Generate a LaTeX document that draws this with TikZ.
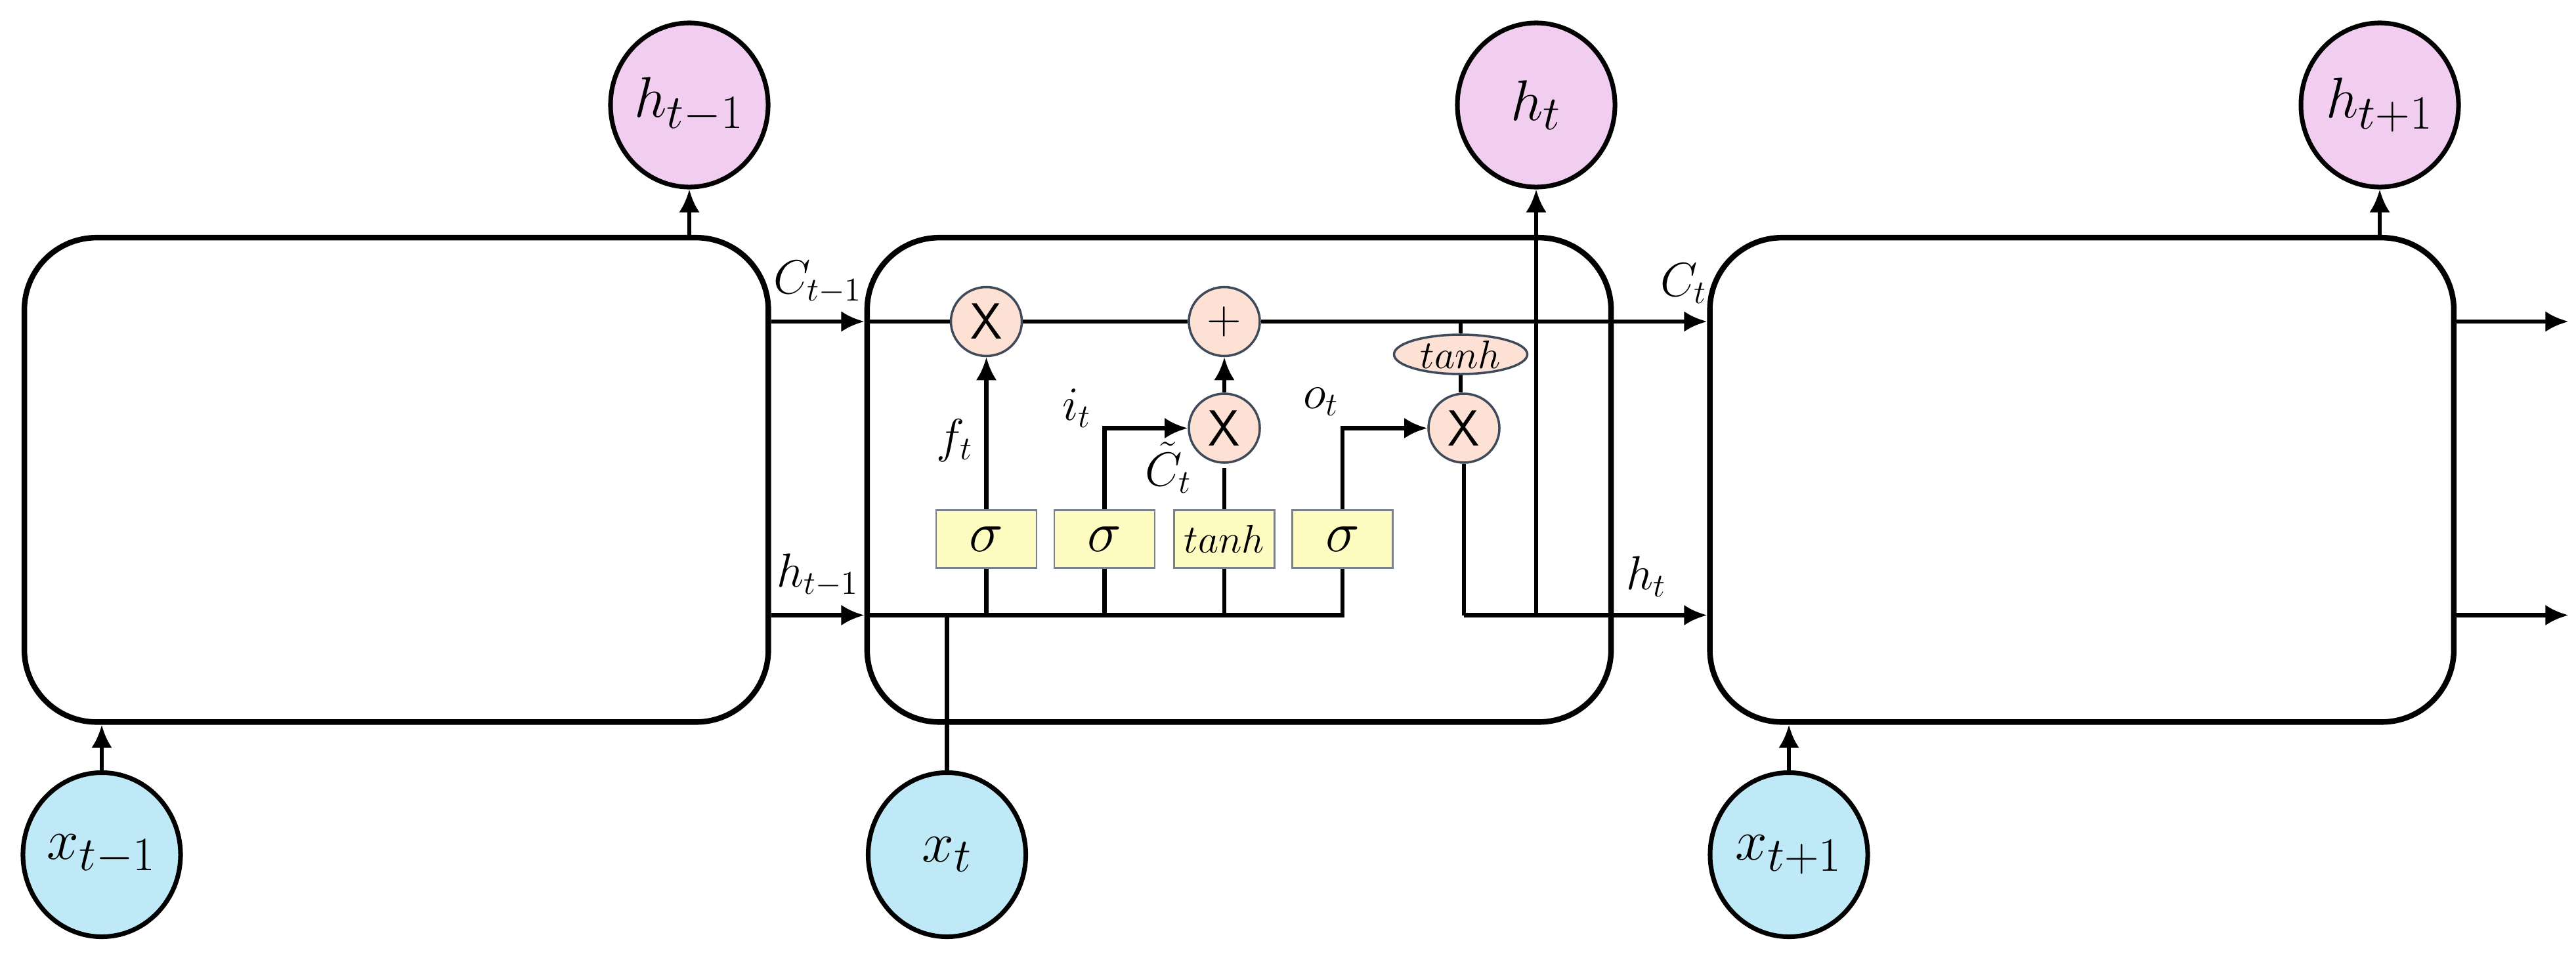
\documentclass[tikz,border=0pt]{standalone}
\usepackage{amsmath}
\usetikzlibrary{shapes.geometric, arrows.meta}
\definecolor{outpink}{HTML}{F1CDEF}
\definecolor{inblue}{HTML}{BFE9F7}
\definecolor{oppeach}{HTML}{FCE1D4}
\definecolor{gateyel}{HTML}{FDFBC0}
\definecolor{edgegray}{HTML}{3E4A5A}
\tikzset{
  cell/.style={draw, line width=2.4pt, rounded corners=1.1cm, minimum width=11.33cm, minimum height=7.38cm},
  outnode/.style={ellipse, draw, line width=2pt, fill=outpink, minimum width=2.4cm, minimum height=2.5cm, inner sep=0pt, font=\fontsize{32}{34}\selectfont},
  innode/.style={ellipse, draw, line width=2pt, fill=inblue, minimum width=2.4cm, minimum height=2.5cm, inner sep=0pt, font=\fontsize{32}{34}\selectfont},
  op/.style={ellipse, draw=edgegray, line width=1pt, fill=oppeach, minimum width=1.08cm, minimum height=1.05cm, inner sep=0pt, font=\sffamily\fontsize{22}{24}\selectfont},
  gate/.style={draw=edgegray!70, line width=0.8pt, fill=gateyel, minimum width=1.53cm, minimum height=0.88cm, inner sep=0pt, font=\fontsize{24}{26}\selectfont},
  lbl/.style={font=\fontsize{20}{22}\selectfont, inner sep=1pt},
  wire/.style={line width=1.8pt},
  arr/.style={line width=1.8pt, -{Latex[length=10pt,width=9pt]}}
}
\begin{document}
\begin{tikzpicture}[x=0.025cm, y=-0.025cm]
\useasboundingbox (0,0) rectangle (1569.6,584.8);
% three cells
\node[cell] (cellA) at (241.5,292.5) {};
\node[cell] (cellB) at (755,292.5) {};
\node[cell] (cellC) at (1268.5,292.5) {};
% outputs and inputs
\node[outnode] (hA) at (420,64) {$h_{t-1}$};
\node[outnode] (hB) at (936,64) {$h_t$};
\node[outnode] (hC) at (1450,64) {$h_{t+1}$};
\node[innode] (xA) at (62,521) {$x_{t-1}$};
\node[innode] (xB) at (577,521) {$x_t$};
\node[innode] (xC) at (1090,521) {$x_{t+1}$};
% gate operators
\node[op] (mulF) at (601,196) {X};
\node[op] (add) at (746,196) {$+$};
\node[op] (mulI) at (746,261) {X};
\node[op] (mulO) at (892,261) {X};
\node[op, minimum width=2.03cm, minimum height=0.6cm, font=\fontsize{17}{19}\selectfont] (tanhC) at (890,216) {$tanh$};
\node[gate] (sigF) at (601,328.5) {$\sigma$};
\node[gate] (sigI) at (673,328.5) {$\sigma$};
\node[gate, font=\fontsize{18}{20}\selectfont] (tanhG) at (746,328.5) {$tanh$};
\node[gate] (sigO) at (818,328.5) {$\sigma$};
% named points on the lines
\coordinate (cA) at (cellA.east |- 0,196);
\coordinate (cB) at (cellB.west |- 0,196);
\coordinate (cBo) at (cellB.east |- 0,196);
\coordinate (cC) at (cellC.west |- 0,196);
\coordinate (cCo) at (cellC.east |- 0,196);
\coordinate (cEnd) at (1565,196);
\coordinate (hA1) at (cellA.east |- 0,375);
\coordinate (hB1) at (cellB.west |- 0,375);
\coordinate (hC1) at (cellC.west |- 0,375);
\coordinate (hCo) at (cellC.east |- 0,375);
\coordinate (hEnd) at (1565,375);
\coordinate (hBus) at (818,375);
\coordinate (hOut) at (892,375);
\coordinate (hTap) at (936,375);
% outer arrows
\draw[arr] (cellA.north -| hA) -- (hA);
\draw[arr] (cellC.north -| hC) -- (hC);
\draw[arr] (xA) -- (cellA.south -| xA);
\draw[arr] (xC) -- (cellC.south -| xC);
\draw[arr] (cA) -- node[lbl, above=6pt, pos=0.5] {$C_{t-1}$} (cB);
\draw[arr] (hA1) -- node[lbl, above=6pt, pos=0.5] {$h_{t-1}$} (hB1);
\draw[arr] (cBo) -- node[lbl, above=6pt, pos=0.75] {$C_t$} (cC);
\draw[arr] (cCo) -- (cEnd);
\draw[arr] (hCo) -- (hEnd);
% cell state line
\draw[wire] (cB) -- (mulF) -- (add) -- (cBo);
\draw[wire] (tanhC.north) -- (tanhC.north |- cBo);
\draw[wire] (tanhC.south) -- (mulO.north -| tanhC.south);
% hidden bus and gates
\draw[wire] (hB1) -- (hBus) -- (sigO);
\draw[wire] (xB) -- (xB |- hB1);
\draw[wire] (sigF.south) -- (sigF.south |- hB1);
\draw[wire] (sigI.south) -- (sigI.south |- hB1);
\draw[wire] (tanhG.south) -- (tanhG.south |- hB1);
\draw[arr] (sigF) -- node[lbl, left, pos=0.45, xshift=-4pt] {$f_t$} (mulF);
\draw[arr] (sigI) |- (mulI);
\draw[arr] (mulI) -- (add);
\draw[wire] (tanhG.north) -- ++(0,-25);
\draw[arr] (sigO) |- (mulO);
\node[lbl] (iLbl) at (656,249) {$i_t$};
\node[lbl] (cLbl) at (712,285) {$\tilde{C}_t$};
\node[lbl] (oLbl) at (805,245) {$o_t$};
% output of the cell
\draw[wire] (mulO) -- (hOut);
\draw[arr] (hOut) -- node[lbl, above=6pt, pos=0.75] {$h_t$} (hC1);
\draw[arr] (hTap) -- (hB);
\end{tikzpicture}
\end{document}
